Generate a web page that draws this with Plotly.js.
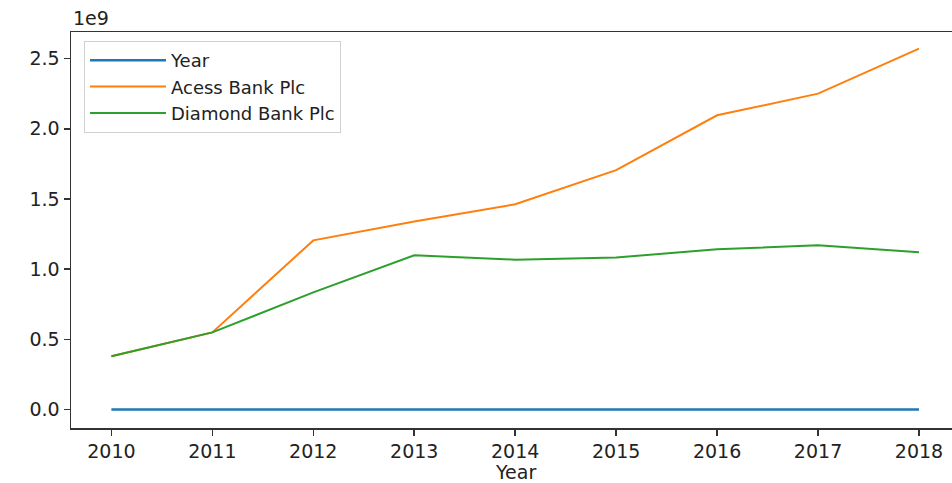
<!DOCTYPE html>
<html>
<head>
<meta charset="utf-8">
<script src="https://cdn.plot.ly/plotly-3.0.1.min.js"></script>
<style>html,body{margin:0;padding:0;background:#fff;}#chart{width:952px;height:483px;}</style>
</head>
<body>
<div id="chart"></div>
<script>
// Data (values in raw units; axis shows them scaled by 1e9)
const years = [2010, 2011, 2012, 2013, 2014, 2015, 2016, 2017, 2018];
const yearSeries = [2010, 2011, 2012, 2013, 2014, 2015, 2016, 2017, 2018];
const accessBank = [0.38e9, 0.55e9, 1.205e9, 1.34e9, 1.462e9, 1.705e9, 2.096e9, 2.25e9, 2.571e9];
const diamondBank = [0.38e9, 0.55e9, 0.835e9, 1.099e9, 1.068e9, 1.083e9, 1.142e9, 1.170e9, 1.120e9];
const seriesNames = ["Year", "Acess Bank Plc", "Diamond Bank Plc"];
const yTickVals = [0, 0.5e9, 1.0e9, 1.5e9, 2.0e9, 2.5e9];
const yTickText = ["0.0", "0.5", "1.0", "1.5", "2.0", "2.5"];
const xTickVals = years;

const font = {family: "DejaVu Sans", size: 19, color: "#222"};

const traces = [
  {x: years, y: yearSeries, name: seriesNames[0], mode: "lines", line: {color: "#1f77b4", width: 2.5}},
  {x: years, y: accessBank, name: seriesNames[1], mode: "lines", line: {color: "#ff7f0e", width: 2}},
  {x: years, y: diamondBank, name: seriesNames[2], mode: "lines", line: {color: "#2ca02c", width: 2}}
];

const L = 71, R = 0, T = 32, B = 55;
const W = 952, H = 483;
const pw = W - L - R, ph = H - T - B;

const layout = {
  width: W, height: H,
  margin: {l: L, r: R, t: T, b: B, pad: 0},
  paper_bgcolor: "#fff", plot_bgcolor: "#fff",
  font: font,
  showlegend: true,
  legend: {
    x: (84 - L) / pw, y: 1 - (41 - T) / ph, xanchor: "left", yanchor: "top",
    bgcolor: "rgba(255,255,255,0.8)", bordercolor: "#d0d0d0", borderwidth: 1,
    font: {family: "DejaVu Sans", size: 18, color: "#222"},
    tracegroupgap: 0, itemwidth: 76
  },
  xaxis: {
    range: [2009.6, 2018.327],
    tickvals: xTickVals, ticktext: xTickVals.map(String),
    showgrid: false, zeroline: false,
    showline: true, linecolor: "#333", linewidth: 1.5, mirror: true,
    ticks: "outside", ticklen: 6, tickwidth: 1.5, tickcolor: "#333",
    tickfont: font
  },
  yaxis: {
    range: [-0.131e9, 2.689e9],
    tickvals: yTickVals, ticktext: yTickText,
    showgrid: false, zeroline: false,
    showline: true, linecolor: "#333", linewidth: 1.5, mirror: false,
    ticks: "outside", ticklen: 6, tickwidth: 1.5, tickcolor: "#333",
    tickfont: font
  },
  annotations: [
    {text: "1e9", xref: "paper", yref: "paper", x: 0, y: 1, xanchor: "left", yanchor: "bottom",
     yshift: 1, showarrow: false, font: font},
    {text: "Year", xref: "paper", yref: "paper", x: (515 - L) / pw, y: 0, xanchor: "center", yanchor: "top",
     yshift: -31, showarrow: false, font: font}
  ]
};

Plotly.newPlot("chart", traces, layout, {displayModeBar: false, staticPlot: true});
</script>
</body>
</html>
